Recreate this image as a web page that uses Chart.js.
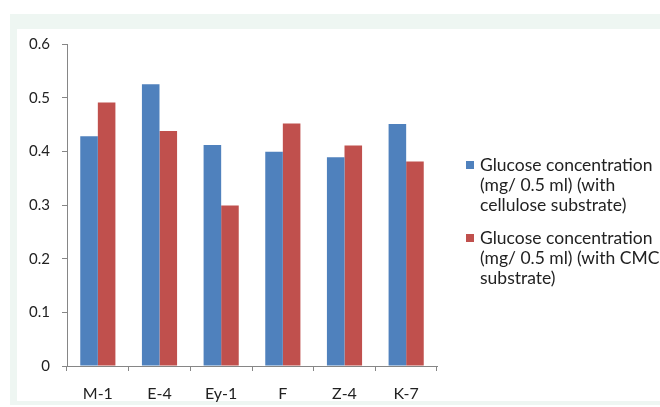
<!DOCTYPE html>
<html>
<head>
<meta charset="utf-8">
<script src="https://cdn.jsdelivr.net/npm/chart.js@4/dist/chart.umd.min.js"></script>
<style>
  html, body { margin: 0; padding: 0; background: #fff; }
  #frame { position: absolute; left: 10px; top: 14px; width: 650px; height: 391px; background: #eef6f2; }
  #box { position: absolute; left: 17px; top: 29px; width: 643px; height: 372px; background: #fff; }
  #chart { position: absolute; left: 17px; top: 0; }
</style>
</head>
<body>
<div id="frame"></div>
<div id="box"></div>
<canvas id="chart" width="643" height="407"></canvas>
<script>
const categories = ["M-1", "E-4", "Ey-1", "F", "Z-4", "K-7"];
const cellulose = [0.428, 0.525, 0.412, 0.399, 0.389, 0.451];
const cmc = [0.491, 0.438, 0.299, 0.452, 0.411, 0.381];
const seriesNames = [
  ["Glucose concentration", "(mg/ 0.5 ml) (with", "cellulose substrate)"],
  ["Glucose concentration", "(mg/ 0.5 ml) (with CMC", "substrate)"],
];

const font = "Lato";
const axisColor = "#868686";

// legend drawn at the right, text wrapped like the original
const sideLegend = {
  id: "sideLegend",
  afterDraw(chart) {
    const ctx = chart.ctx;
    ctx.save();
    ctx.font = `17.5px ${font}`;
    ctx.textBaseline = "middle";
    const tops = [165, 238];
    chart.data.datasets.forEach((ds, i) => {
      ctx.fillStyle = ds.backgroundColor;
      ctx.fillRect(449, tops[i] - 4, 8, 8);
      ctx.fillStyle = "#222";
      seriesNames[i].forEach((line, j) => {
        ctx.fillText(line, 463, tops[i] + j * 20);
      });
    });
    ctx.restore();
  },
};

new Chart(document.getElementById("chart"), {
  type: "bar",
  data: {
    labels: categories,
    datasets: [
      { label: seriesNames[0].join(" "), data: cellulose, backgroundColor: "#4f81bd" },
      { label: seriesNames[1].join(" "), data: cmc, backgroundColor: "#c0504d" },
    ],
  },
  options: {
    responsive: false,
    animation: false,
    layout: { padding: { top: 44, right: 223, left: 0, bottom: 0 } },
    datasets: { bar: { categoryPercentage: 0.57, barPercentage: 1 } },
    plugins: { legend: { display: false }, tooltip: { enabled: false } },
    scales: {
      x: {
        afterFit(scale) { scale.height = 41; },
        grid: { drawOnChartArea: false, tickLength: 5, color: axisColor },
        border: { color: axisColor },
        ticks: { color: "#222", font: { family: font, size: 16 }, padding: 13 },
      },
      y: {
        min: 0,
        max: 0.6,
        afterFit(scale) { scale.width = 50; },
        grid: { drawOnChartArea: false, tickLength: 5, color: axisColor },
        border: { color: axisColor },
        ticks: { stepSize: 0.1, color: "#222", font: { family: font, size: 15 }, padding: 12 },
      },
    },
  },
  plugins: [sideLegend],
});
</script>
</body>
</html>
